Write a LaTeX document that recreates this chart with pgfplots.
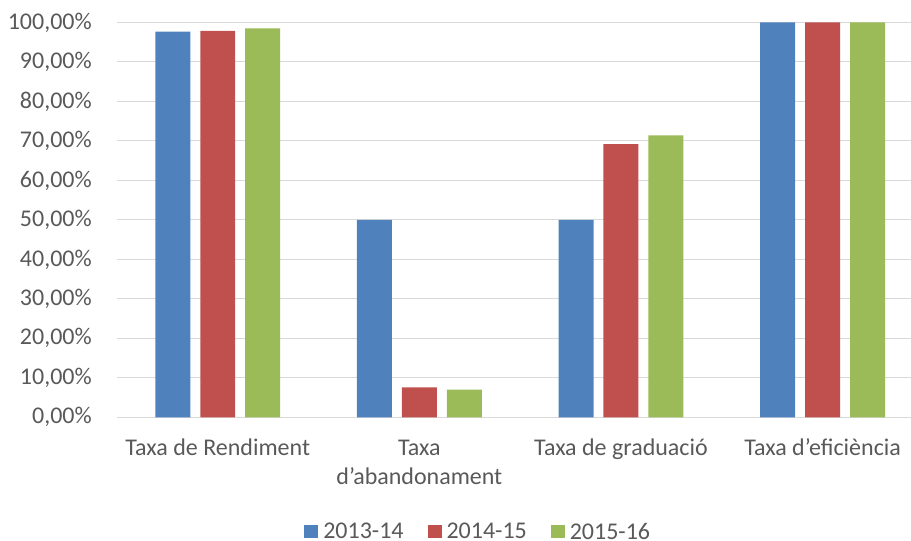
\documentclass[border=0pt]{standalone}
\usepackage{pgfplots}
\pgfplotsset{compat=1.18}
\usepackage{fontspec}
\setmainfont{Carlito}
\definecolor{cBlue}{HTML}{4F81BD}
\definecolor{cRed}{HTML}{C0504D}
\definecolor{cGreen}{HTML}{9BBB59}
\definecolor{cGrid}{HTML}{D9D9D9}
\definecolor{cText}{HTML}{595959}
\newcommand{\st}{\rule{0pt}{18pt}}
\begin{document}
\begin{tikzpicture}
\begin{axis}[
  at={(0,0)}, anchor=south west,
  scale only axis=true,
  width=794pt, height=395pt,
  xmin=-0.5, xmax=3.436,
  ymin=0, ymax=100,
  ybar=10pt, bar width=35pt,
  axis line style={draw=none},
  major tick length=0pt,
  ymajorgrids=true,
  grid style={draw=cGrid, line width=1pt},
  ytick={0,10,...,100},
  yticklabel={\pgfmathprintnumber[fixed,fixed zerofill,precision=2,use comma]{\tick}\%},
  /pgf/number format/assume math mode=true,
  xtick={0,1,2,3},
  xticklabels={{\st Taxa de Rendiment},{\st Taxa\\d’abandonament},{\st Taxa de graduació},{\st Taxa d’eficiència}},
  every tick label/.append style={font=\fontsize{24}{29}\selectfont, text=cText, inner sep=0pt},
  xticklabel style={align=center, anchor=north, yshift=-20.5pt},
  yticklabel style={anchor=east, xshift=-25pt},
  legend columns=-1,
  legend style={at={(0.454,-0.2899)}, anchor=center, draw=none, fill=none,
    font=\fontsize{24}{28}\selectfont, text=cText,
    nodes={inner sep=0pt},
    /tikz/every odd column/.append style={column sep=5pt},
    /tikz/every even column/.append style={column sep=24pt},
    inner sep=0pt},
  legend image code/.code={\draw[#1, draw=none] (0pt,-6.5pt) rectangle (14pt,6.5pt);},
  legend cell align=left,
]
\addplot[fill=cBlue, draw=none] coordinates {(0,97.7) (1,50.0) (2,50.0) (3,100)};
\addplot[fill=cRed, draw=none] coordinates {(0,97.9) (1,7.6) (2,69.2) (3,100)};
\addplot[fill=cGreen, draw=none] coordinates {(0,98.5) (1,7.0) (2,71.4) (3,100)};
\legend{2013-14,2014-15,2015-16}
\end{axis}
\path[use as bounding box] (-117pt,-123.5pt) rectangle (794pt,417.5pt);
\end{tikzpicture}
\end{document}
